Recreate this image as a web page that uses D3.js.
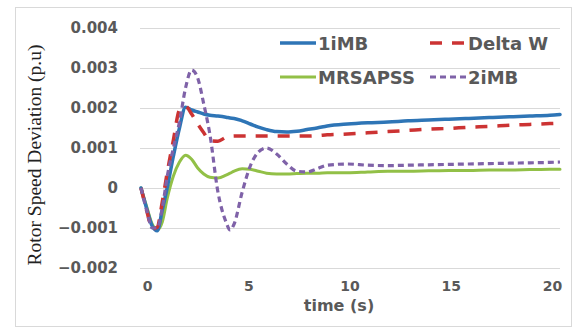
<!DOCTYPE html>
<html>
<head>
<meta charset="utf-8">
<script src="https://cdn.jsdelivr.net/npm/d3@7"></script>
<style>
  body { margin: 0; background: #fff; }
  svg { display: block; }
</style>
</head>
<body>
<div id="chart"></div>
<script>
// time samples (s), shared by all series
const times = [-0.2, 0.1, 0.35, 0.6, 0.85, 1.1, 1.4, 1.7, 2.0, 2.3, 2.6, 2.9, 3.2, 3.6, 4.0, 4.2, 4.4, 4.8, 5.2, 5.6,
  6.0, 6.5, 7.0, 7.5, 8.0, 8.5, 9.0, 10, 11, 12, 13, 14, 15, 16, 17, 18, 19, 20, 20.5];

// rotor speed deviation, in units of 0.001 p.u
const oneIMB = [0, -0.55, -0.95, -1.07, -0.55, 0.02, 0.8, 1.5, 2.02, 1.95, 1.9, 1.85, 1.82, 1.8, 1.77, 1.75, 1.74, 1.68, 1.6, 1.52,
  1.46, 1.41, 1.4, 1.42, 1.46, 1.5, 1.55, 1.6, 1.63, 1.65, 1.68, 1.7, 1.72, 1.74, 1.76, 1.78, 1.8, 1.82, 1.84];
const deltaW = [0, -0.6, -1.02, -0.98, -0.35, 0.4, 1.2, 1.95, 2.04, 1.85, 1.6, 1.38, 1.18, 1.17, 1.27, 1.29, 1.3, 1.3, 1.3, 1.3,
  1.3, 1.3, 1.3, 1.3, 1.3, 1.31, 1.33, 1.35, 1.38, 1.41, 1.44, 1.47, 1.49, 1.52, 1.54, 1.57, 1.59, 1.61, 1.62];
const mrsapss = [0, -0.5, -0.9, -1.05, -0.85, -0.25, 0.3, 0.65, 0.82, 0.72, 0.5, 0.35, 0.27, 0.25, 0.32, 0.37, 0.42, 0.48, 0.47, 0.42,
  0.37, 0.35, 0.35, 0.36, 0.37, 0.37, 0.38, 0.38, 0.4, 0.42, 0.42, 0.43, 0.44, 0.44, 0.45, 0.45, 0.46, 0.47, 0.47];
const twoIMB = [0, -0.6, -1.0, -1.0, -0.5, 0.3, 1.0, 1.65, 2.5, 2.95, 2.75, 2.1, 1.35, -0.1, -0.85, -1.05, -0.9, -0.1, 0.55, 0.9,
  1.0, 0.85, 0.6, 0.42, 0.4, 0.48, 0.57, 0.6, 0.57, 0.56, 0.57, 0.58, 0.59, 0.6, 0.61, 0.62, 0.63, 0.64, 0.65];

const yTicks = [0.004, 0.003, 0.002, 0.001, 0, -0.001, -0.002];
const xTicks = [0, 5, 10, 15, 20];

const series = [
  { name: "1iMB", values: oneIMB, color: "#2e75b6", dash: null, width: 3.5 },
  { name: "Delta W", values: deltaW, color: "#cc3333", dash: "12,10", width: 3.5 },
  { name: "MRSAPSS", values: mrsapss, color: "#92c047", dash: null, width: 3 },
  { name: "2iMB", values: twoIMB, color: "#7f62a8", dash: "6,4", width: 3.2 }
];

const W = 573, H = 335;
const margin = { top: 28, right: 13, bottom: 67, left: 140 };
const width = W - margin.left - margin.right;
const height = H - margin.top - margin.bottom;

const svg = d3.select("#chart").append("svg")
  .attr("width", W)
  .attr("height", H);

// outer chart border
svg.append("rect")
  .attr("x", 15.5).attr("y", 7.5)
  .attr("width", 556).attr("height", 319)
  .attr("fill", "none")
  .attr("stroke", "#d9d9d9");

const g = svg.append("g")
  .attr("transform", `translate(${margin.left},${margin.top})`);

const x = d3.scaleLinear().domain([-0.25, 20.5]).range([0, width]);
const y = d3.scaleLinear().domain([-0.002, 0.004]).range([height, 0]);

// gridlines + y labels
const yAxis = g.append("g")
  .call(d3.axisLeft(y)
    .tickValues(yTicks)
    .tickSize(-width)
    .tickPadding(22)
    .tickFormat(d => d === 0 ? "0" : d3.format(".3f")(d)));
yAxis.select(".domain").remove();
yAxis.selectAll("line").attr("stroke", "#d9d9d9");
yAxis.selectAll("text")
  .style("font-family", "DejaVu Sans")
  .style("font-weight", "bold")
  .style("font-size", "15px")
  .attr("fill", "#595959");

const xAxis = g.append("g")
  .attr("transform", `translate(0,${height})`)
  .call(d3.axisBottom(x).tickValues(xTicks).tickSize(0).tickPadding(13));
xAxis.select(".domain").remove();
xAxis.selectAll("text")
  .attr("dx", 2)
  .style("font-family", "DejaVu Sans")
  .style("font-weight", "bold")
  .style("font-size", "14px")
  .attr("fill", "#595959");

// axis titles
svg.append("text")
  .attr("x", 339).attr("y", 311)
  .attr("text-anchor", "middle")
  .style("font-family", "DejaVu Sans")
  .style("font-weight", "bold")
  .style("font-size", "16px")
  .attr("fill", "#595959")
  .text("time (s)");

svg.append("text")
  .attr("transform", "translate(41,155) rotate(-90)")
  .attr("text-anchor", "middle")
  .style("font-family", "Liberation Serif")
  .style("font-size", "19.5px")
  .attr("fill", "#222")
  .text("Rotor Speed Deviation (p.u)");

// lines
const line = d3.line()
  .x((d, i) => x(times[i]))
  .y(d => y(d / 1000))
  .curve(d3.curveMonotoneX);

const plotOrder = [2, 0, 1, 3];
plotOrder.forEach(k => {
  const s = series[k];
  g.append("path")
    .datum(s.values)
    .attr("d", line)
    .attr("fill", "none")
    .attr("stroke", s.color)
    .attr("stroke-width", s.width)
    .attr("stroke-dasharray", s.dash)
    .attr("stroke-linecap", s.dash ? "butt" : "round")
    .attr("stroke-linejoin", "round");
});

// legend
const legendPos = [
  { x: 280, y: 43 }, { x: 430, y: 43 },
  { x: 280, y: 77 }, { x: 430, y: 77 }
];
series.forEach((s, i) => {
  const p = legendPos[i];
  const lg = svg.append("g").attr("transform", `translate(${p.x},${p.y})`);
  lg.append("line")
    .attr("x1", 0).attr("x2", 36)
    .attr("y1", 0).attr("y2", 0)
    .attr("stroke", s.color)
    .attr("stroke-width", s.width)
    .attr("stroke-dasharray", s.dash);
  lg.append("text")
    .attr("x", 38).attr("y", 6.5)
    .style("font-family", "DejaVu Sans")
    .style("font-weight", "bold")
    .style("font-size", "18px")
    .attr("fill", "#595959")
    .text(s.name);
});
</script>
</body>
</html>
